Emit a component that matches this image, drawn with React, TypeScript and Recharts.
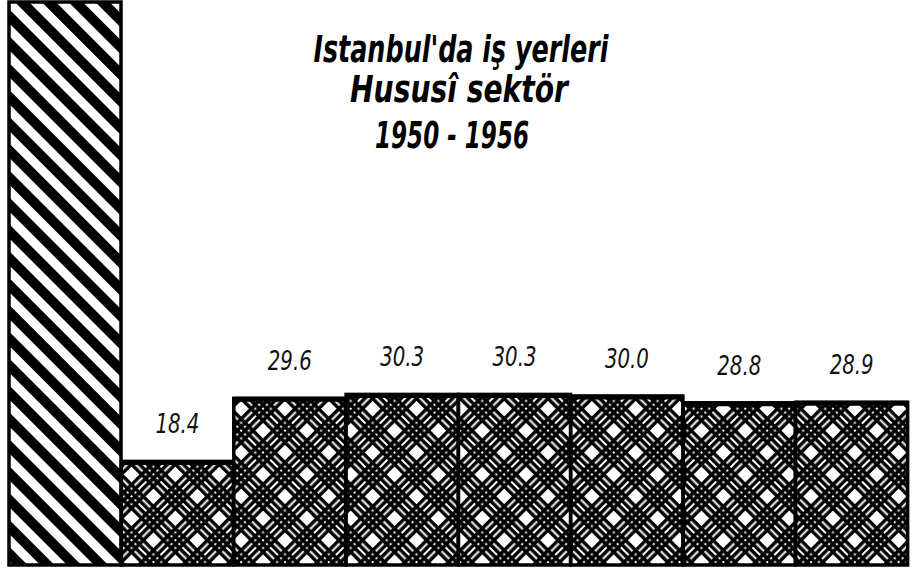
import React from 'react';
import { BarChart, Bar, XAxis, YAxis, LabelList } from 'recharts';

const categories = ['Toplam', '1950', '1951', '1952', '1953', '1954', '1955', '1956'];
const values = [100, 18.4, 29.6, 30.3, 30.3, 30.0, 28.8, 28.9];
const titleLines = ["Istanbul'da iş yerleri", 'Hususî sektör', '1950 - 1956'];

const data = categories.map((c, i) => ({ name: c, value: values[i] }));

const BarShape = (props: any) => {
  const { x, y, width, height, index } = props;
  const first = index === 0;
  return (
    <g>
      <rect x={x} y={y} width={width} height={height} fill={first ? 'url(#diag)' : 'url(#cross)'} stroke="#000" strokeWidth={3.5} />
      {!first && <line x1={x} x2={x + width} y1={y + 1} y2={y + 1} stroke="#000" strokeWidth={5} />}
    </g>
  );
};

const ValueLabel = (props: any) => {
  const { x, y, width, value, index } = props;
  if (index === 0 || value >= 100) return null;
  return (
    <text
      x={x + width / 2}
      y={y - 28}
      textAnchor="middle"
      fontFamily="'DejaVu Sans Condensed', 'DejaVu Sans', sans-serif"
      fontStyle="italic"
      fontSize={27}
      textLength={44}
      lengthAdjust="spacingAndGlyphs"
      fill="#111"
    >
      {Number(value).toFixed(1)}
    </text>
  );
};

const bandLines = [0, 5.5, 11, 16.5];

export default function App() {
  const titleFont = "'DejaVu Sans Condensed', 'DejaVu Sans', sans-serif";
  return (
    <div style={{ position: 'absolute', left: 0, top: 0, width: 912, height: 577, background: '#fff' }}>
      <svg width={0} height={0} style={{ position: 'absolute' }}>
        <defs>
          <pattern id="diag" patternUnits="userSpaceOnUse" width={19} height={19} patternTransform="rotate(45)">
            <rect x={0} y={0} width={19} height={19} fill="#fff" />
            <rect x={0} y={0} width={19} height={10} fill="#000" />
          </pattern>
          <pattern id="cross" patternUnits="userSpaceOnUse" width={31} height={31} patternTransform="rotate(45)">
            <rect x={0} y={0} width={31} height={31} fill="#fff" />
            {bandLines.map((p) => (
              <rect key={'h' + p} x={0} y={p} width={31} height={3.5} fill="#000" />
            ))}
            {bandLines.map((p) => (
              <rect key={'v' + p} x={p} y={0} width={3.5} height={31} fill="#000" />
            ))}
          </pattern>
        </defs>
      </svg>
      <BarChart width={912} height={577} data={data} margin={{ top: 2, right: 4, left: 9, bottom: 12 }} barCategoryGap={0} barGap={0}>
        <XAxis dataKey="name" hide />
        <YAxis domain={[0, 100]} hide />
        <Bar dataKey="value" isAnimationActive={false} shape={<BarShape />}>
          <LabelList dataKey="value" content={<ValueLabel />} />
        </Bar>
      </BarChart>
      <svg width={912} height={577} style={{ position: 'absolute', left: 0, top: 0, pointerEvents: 'none' }}>
        <text x={461} y={62} textAnchor="middle" fontFamily={titleFont} fontWeight="bold" fontStyle="italic" fontSize={38} textLength={295} lengthAdjust="spacingAndGlyphs" fill="#000">
          {titleLines[0]}
        </text>
        <text x={459} y={102} textAnchor="middle" fontFamily={titleFont} fontWeight="bold" fontStyle="italic" fontSize={38} textLength={218} lengthAdjust="spacingAndGlyphs" fill="#000">
          {titleLines[1]}
        </text>
        <text x={452} y={148} textAnchor="middle" fontFamily={titleFont} fontWeight="bold" fontStyle="italic" fontSize={38} textLength={154} lengthAdjust="spacingAndGlyphs" fill="#000">
          {titleLines[2]}
        </text>
      </svg>
    </div>
  );
}
